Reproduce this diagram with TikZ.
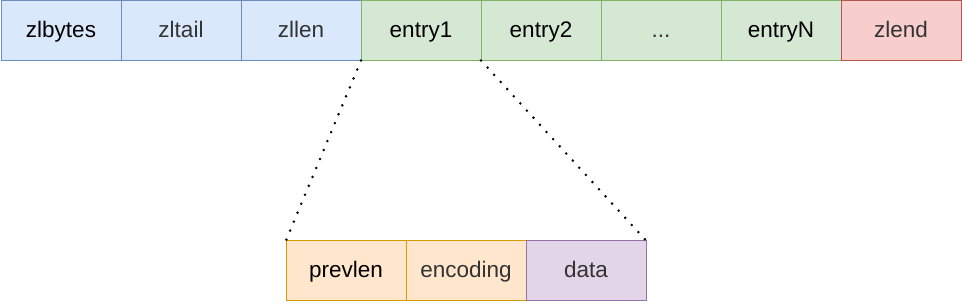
\documentclass[tikz,border=0pt]{standalone}
\usepackage{fontspec}
\setmainfont{Liberation Sans}
\usetikzlibrary{positioning}
\definecolor{headFill}{HTML}{DAE8FC}
\definecolor{headDraw}{HTML}{6C8EBF}
\definecolor{entryFill}{HTML}{D5E8D4}
\definecolor{entryDraw}{HTML}{82B366}
\definecolor{endFill}{HTML}{F8CECC}
\definecolor{endDraw}{HTML}{B85450}
\definecolor{metaFill}{HTML}{FFE6CC}
\definecolor{metaDraw}{HTML}{D79B00}
\definecolor{dataFill}{HTML}{E1D5E7}
\definecolor{dataDraw}{HTML}{9673A6}
\definecolor{softtext}{HTML}{333333}
\tikzset{
  cell/.style={draw, line width=1pt, minimum width=120pt, minimum height=59.5pt,
    inner sep=0pt, outer sep=0pt, text height=17pt, text depth=3pt,
    font=\fontsize{22.5}{26}\selectfont},
  headcell/.style={cell, draw=headDraw, fill=headFill},
  entrycell/.style={cell, draw=entryDraw, fill=entryFill},
  endcell/.style={cell, draw=endDraw, fill=endFill},
  metacell/.style={cell, draw=metaDraw, fill=metaFill},
  datacell/.style={cell, draw=dataDraw, fill=dataFill},
  grey/.style={text=softtext},
  zoomline/.style={line width=2.8pt, line cap=round, dash pattern=on 0pt off 9.7pt}
}
\begin{document}
\begin{tikzpicture}[x=1pt,y=-1pt]
  \useasboundingbox (0,0) rectangle (962,302);
  % ziplist layout
  \node[headcell, anchor=north west] (zlbytes) at (1,1) {zlbytes};
  \node[headcell, grey, right=0pt of zlbytes] (zltail) {zltail};
  \node[headcell, grey, right=0pt of zltail] (zllen) {zllen};
  \node[entrycell, right=0pt of zllen] (entry1) {entry1};
  \node[entrycell, right=0pt of entry1] (entry2) {entry2};
  \node[entrycell, grey, right=0pt of entry2] (more) {...};
  \node[entrycell, right=0pt of more] (entryN) {entryN};
  \node[endcell, grey, right=0pt of entryN] (zlend) {zlend};
  % entry layout
  \node[metacell, anchor=north west] (prevlen) at (286,240.5) {prevlen};
  \node[metacell, grey, right=0pt of prevlen] (encoding) {encoding};
  \node[datacell, grey, right=0pt of encoding] (data) {data};
  \draw[zoomline] (entry1.south west) -- (prevlen.north west);
  \draw[zoomline] (entry1.south east) -- (data.north east);
\end{tikzpicture}
\end{document}
